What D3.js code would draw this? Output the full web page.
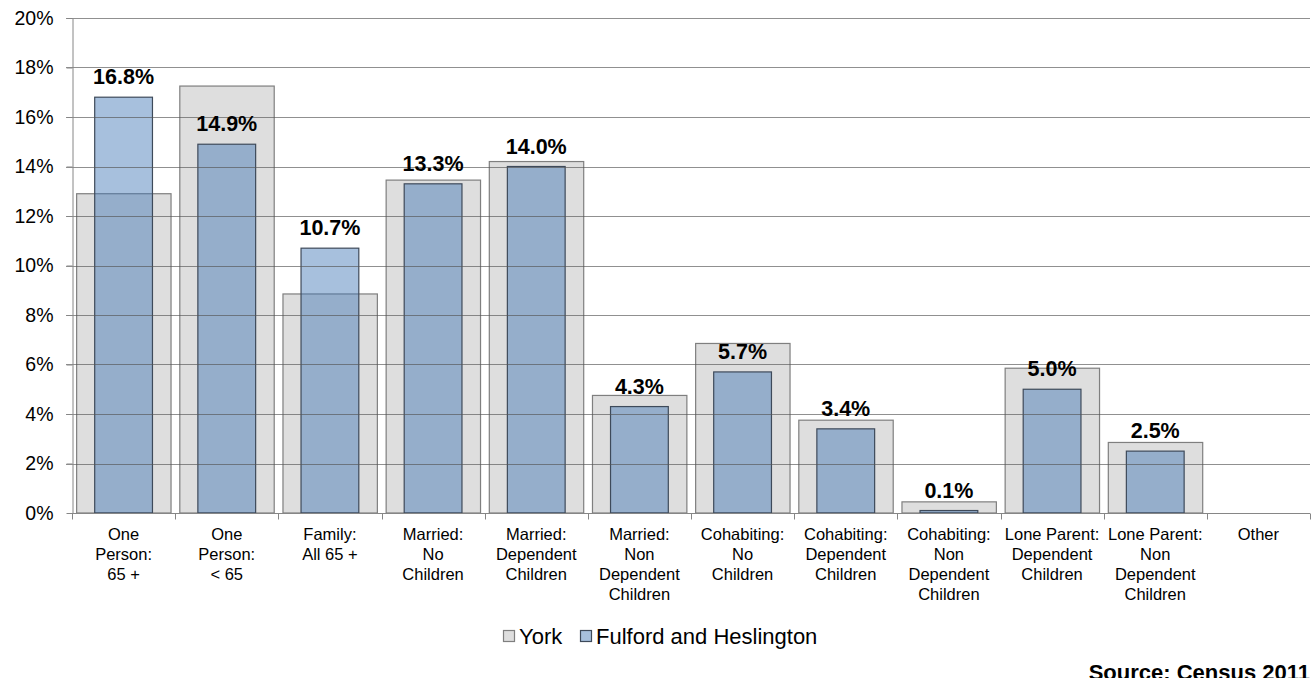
<!DOCTYPE html>
<html>
<head>
<meta charset="utf-8">
<script src="https://cdn.jsdelivr.net/npm/d3@7"></script>
<style>
  html, body { margin: 0; padding: 0; background: #fff; }
  svg { display: block; font-family: "Liberation Sans", Arial, sans-serif; }
</style>
</head>
<body>
<svg id="chart" width="1312" height="678"></svg>
<script>
const categories = [
  ["One", "Person:", "65 +"],
  ["One", "Person:", "< 65"],
  ["Family:", "All 65 +"],
  ["Married:", "No", "Children"],
  ["Married:", "Dependent", "Children"],
  ["Married:", "Non", "Dependent", "Children"],
  ["Cohabiting:", "No", "Children"],
  ["Cohabiting:", "Dependent", "Children"],
  ["Cohabiting:", "Non", "Dependent", "Children"],
  ["Lone Parent:", "Dependent", "Children"],
  ["Lone Parent:", "Non", "Dependent", "Children"],
  ["Other"]
];
const yorkValues = [12.9, 17.25, 8.85, 13.45, 14.2, 4.75, 6.85, 3.75, 0.45, 5.85, 2.85, 0];
const fulfordValues = [16.8, 14.9, 10.7, 13.3, 14.0, 4.3, 5.7, 3.4, 0.1, 5.0, 2.5, null];
const yTicks = [0, 2, 4, 6, 8, 10, 12, 14, 16, 18, 20];
const seriesNames = ["York", "Fulford and Heslington"];
const sourceText = "Source: Census 2011";

(function () {
const svg = d3.select("#chart");
const mLeft = 72, mRight = 1310, mTop = 18, mBottom = 513;
const keys = categories.map((c, i) => i);

const x = d3.scaleBand().domain(keys).range([mLeft, mRight]).padding(0);
const y = d3.scaleLinear().domain([0, 20]).range([mBottom, mTop]);
const bw = x.bandwidth();

const greyFill = "#dedede", greyStroke = "#7f7f7f";
const blueFill = "rgb(64,118,181)", blueOpacity = 0.46, blueStroke = "#3e4a5a";

// York bars
svg.append("g").selectAll("rect").data(keys).join("rect")
  .attr("x", i => x(i) + bw * 0.045)
  .attr("width", bw * 0.915)
  .attr("y", i => y(yorkValues[i]))
  .attr("height", i => y(0) - y(yorkValues[i]))
  .attr("fill", greyFill)
  .attr("stroke", greyStroke)
  .attr("stroke-width", 1.2)
  .style("display", i => yorkValues[i] > 0 ? null : "none");

// Fulford bars
const fk = keys.filter(i => fulfordValues[i] != null);
svg.append("g").selectAll("rect").data(fk).join("rect")
  .attr("x", i => x(i) + bw * 0.22)
  .attr("width", bw * 0.56)
  .attr("y", i => y(fulfordValues[i]))
  .attr("height", i => y(0) - y(fulfordValues[i]))
  .attr("fill", blueFill)
  .attr("fill-opacity", blueOpacity)
  .attr("stroke", blueStroke)
  .attr("stroke-width", 1.2);

// gridlines (drawn over bars, semi-transparent)
svg.append("g").selectAll("line").data(yTicks.filter(t => t > 0)).join("line")
  .attr("x1", mLeft - 6).attr("x2", mRight)
  .attr("y1", d => Math.round(y(d)) + 0.5).attr("y2", d => Math.round(y(d)) + 0.5)
  .attr("stroke", "#555").attr("stroke-opacity", 0.65).attr("stroke-width", 1);

// Y axis
const yAxis = svg.append("g").attr("transform", `translate(${mLeft + 0.5},0)`)
  .call(d3.axisLeft(y).tickValues(yTicks).tickFormat(d => d + "%").tickSize(6).tickSizeOuter(0).tickPadding(13));
yAxis.select(".domain").attr("stroke", "#868686");
yAxis.selectAll(".tick line").attr("stroke", "#868686");
yAxis.selectAll(".tick text").attr("font-size", 19.5).attr("fill", "#000")
  .attr("font-family", "'Liberation Sans', Arial, sans-serif");

// X axis
const xAxisG = svg.append("g").attr("transform", `translate(0,${mBottom + 0.5})`);
xAxisG.append("line").attr("x1", mLeft).attr("x2", mRight).attr("stroke", "#868686");
const bounds = keys.map(i => x(i)).concat([x(keys[keys.length - 1]) + bw]);
xAxisG.selectAll("line.tk").data(bounds).join("line").attr("class", "tk")
  .attr("x1", d => Math.round(d) + 0.5).attr("x2", d => Math.round(d) + 0.5)
  .attr("y1", 0).attr("y2", 6).attr("stroke", "#868686");

// category labels
const catG = svg.append("g");
keys.forEach(i => {
  const t = catG.append("text")
    .attr("x", x(i) + bw / 2)
    .attr("y", 540)
    .attr("text-anchor", "middle")
    .attr("font-size", 16.5)
    .attr("fill", "#000");
  categories[i].forEach((line, j) => {
    t.append("tspan").attr("x", x(i) + bw / 2).attr("y", 540 + j * 20).text(line);
  });
});

// data labels
svg.append("g").selectAll("text").data(fk).join("text")
  .attr("x", i => x(i) + bw / 2)
  .attr("y", i => y(fulfordValues[i]) - 13)
  .attr("text-anchor", "middle")
  .attr("font-size", 21.5)
  .attr("font-weight", "bold")
  .attr("fill", "#000")
  .text(i => fulfordValues[i].toFixed(1) + "%");

// legend
const leg = svg.append("g");
const legItems = [
  {name: seriesNames[0], x: 503, fill: greyFill, op: 1, stroke: greyStroke},
  {name: seriesNames[1], x: 580, fill: blueFill, op: blueOpacity, stroke: blueStroke}
];
legItems.forEach(d => {
  leg.append("rect").attr("x", d.x + 0.5).attr("y", 630.5).attr("width", 11).attr("height", 11)
    .attr("fill", d.fill).attr("fill-opacity", d.op).attr("stroke", d.stroke).attr("stroke-width", 1.2);
  leg.append("text").attr("x", d.x + 16).attr("y", 643.5).attr("font-size", 22).attr("fill", "#000").text(d.name);
});

// source
svg.append("text").attr("x", 1310).attr("y", 680).attr("text-anchor", "end")
  .attr("font-size", 22).attr("font-weight", "bold").attr("fill", "#000").text(sourceText);
})();
</script>
</body>
</html>
